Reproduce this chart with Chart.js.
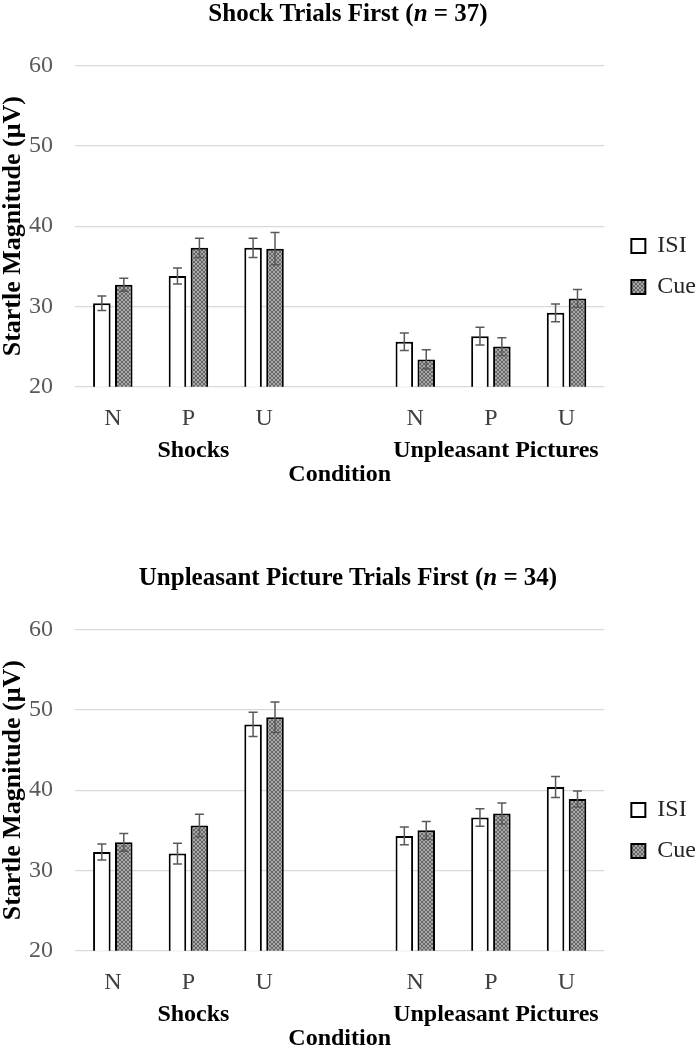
<!DOCTYPE html>
<html>
<head>
<meta charset="utf-8">
<script src="https://cdn.jsdelivr.net/npm/chart.js@4.4.1/dist/chart.umd.min.js"></script>
<style>
  html, body { margin: 0; padding: 0; background: #fff; overflow: hidden; width: 696px; height: 1048px; }
  .panel { position: absolute; left: 0; width: 696px; height: 533px; }
  #panel-top { top: 0; }
  #panel-bottom { top: 564px; }
  .ttl {
    position: absolute; left: 0; top: 0; width: 696px; text-align: center;
    font: bold 25px/25px 'Liberation Serif', 'Times New Roman', serif; color: #000;
  }
  canvas { display: block; }
</style>
</head>
<body>
<div class="panel" id="panel-top">
  <canvas id="chart-top" width="696" height="533"></canvas>
  <div class="ttl">Shock Trials First (<i>n</i> = 37)</div>
</div>
<div class="panel" id="panel-bottom">
  <canvas id="chart-bottom" width="696" height="533"></canvas>
  <div class="ttl">Unpleasant Picture Trials First (<i>n</i> = 34)</div>
</div>
<script>
// ============================================================
//  Startle magnitude by condition, ISI vs Cue, two trial orders
// ============================================================

Chart.defaults.font.family = "'Liberation Serif', 'Times New Roman', serif";
Chart.defaults.font.size = 24;
Chart.defaults.color = '#262626';

const categories  = ['N', 'P', 'U', '', 'N', 'P', 'U'];
const groupLabels = ['', 'Shocks', '', '', '', 'Unpleasant Pictures', ''];
const seriesNames = ['ISI', 'Cue'];
const yTicks      = [20, 30, 40, 50, 60];

// Shock Trials First (n = 37)
const shockFirstISI    = [30.4, 33.8, 37.3, null, 25.6, 26.3, 29.2];
const shockFirstISIErr = [0.9, 1.0, 1.2, null, 1.1, 1.1, 1.1];
const shockFirstCue    = [32.7, 37.3, 37.2, null, 23.4, 25.0, 31.0];
const shockFirstCueErr = [0.8, 1.2, 2.0, null, 1.2, 1.1, 1.1];

// Unpleasant Picture Trials First (n = 34)
const pictureFirstISI    = [32.3, 32.1, 48.2, null, 34.3, 36.6, 40.4];
const pictureFirstISIErr = [1.0, 1.3, 1.5, null, 1.1, 1.1, 1.3];
const pictureFirstCue    = [33.5, 35.6, 49.1, null, 35.0, 37.1, 38.9];
const pictureFirstCueErr = [1.1, 1.4, 1.9, null, 1.1, 1.3, 1.0];

// ── fine crosshatch fill for the Cue bars
function hatchPattern() {
  const c = document.createElement('canvas');
  c.width = 4; c.height = 4;
  const g = c.getContext('2d');
  g.fillStyle = '#a8a8a8';
  g.fillRect(0, 0, 4, 4);
  g.fillStyle = '#666666';
  for (let i = 0; i < 4; i++) {
    g.fillRect(i, i, 1, 1);
    g.fillRect(3 - i, i, 1, 1);
  }
  return g.createPattern(c, 'repeat');
}

// ── error bars, drawn on the bar elements through the y scale
const errorBars = {
  id: 'errorBars',
  afterDatasetsDraw(chart) {
    const { ctx } = chart;
    const y = chart.scales.y;
    ctx.save();
    ctx.strokeStyle = '#595959';
    ctx.lineWidth = 1.5;
    chart.data.datasets.forEach((ds, i) => {
      chart.getDatasetMeta(i).data.forEach((bar, j) => {
        const v = ds.data[j], e = ds.errors[j];
        if (v == null || e == null) return;
        const top = y.getPixelForValue(v + e);
        const bot = y.getPixelForValue(v - e);
        ctx.beginPath();
        ctx.moveTo(bar.x, top);       ctx.lineTo(bar.x, bot);
        ctx.moveTo(bar.x - 4.5, top); ctx.lineTo(bar.x + 4.5, top);
        ctx.moveTo(bar.x - 4.5, bot); ctx.lineTo(bar.x + 4.5, bot);
        ctx.stroke();
      });
    });
    ctx.restore();
  }
};

// ── legend sits a little further right than Chart.js puts it
const legendNudge = {
  id: 'legendNudge',
  afterLayout(chart) {
    chart.legend.left += 10;
    chart.legend.right += 10;
  }
};

function makeChart(id, isi, isiErr, cue, cueErr) {
  const yStep = yTicks[1] - yTicks[0];
  const barStyle = { borderColor: '#000000', borderWidth: 2, borderSkipped: false, categoryPercentage: 0.58, barPercentage: 0.8 };

  return new Chart(document.getElementById(id), {
    type: 'bar',
    data: {
      labels: categories,
      datasets: [
        { label: seriesNames[0], data: isi, errors: isiErr, backgroundColor: '#ffffff', ...barStyle },
        { label: seriesNames[1], data: cue, errors: cueErr, backgroundColor: hatchPattern(), ...barStyle },
      ]
    },
    options: {
      responsive: false,
      animation: false,
      layout: { padding: 0 },
      plugins: {
        // empty title block only reserves the space of the html heading above
        title: { display: true, text: '', font: { size: 25, lineHeight: 1.1 }, padding: { top: 0, bottom: 38.2 } },
        legend: {
          position: 'right',
          align: 'center',
          labels: { boxWidth: 14, boxHeight: 14, padding: 17, color: '#262626', font: { size: 24 } }
        },
        tooltip: { enabled: false },
      },
      scales: {
        x: {
          type: 'category', position: 'bottom', weight: 0,
          grid: { display: false }, border: { display: false },
          ticks: { padding: 10, color: '#404040', font: { size: 24 }, autoSkip: false, maxRotation: 0 },
          afterFit: s => { s.height = 41; }
        },
        x2: {
          type: 'category', position: 'bottom', weight: 1, labels: groupLabels, offset: true,
          grid: { display: false }, border: { display: false },
          ticks: { padding: 1, color: '#000000', font: { size: 24, weight: 'bold' }, autoSkip: false, maxRotation: 0, labelOffset: 5 },
          title: { display: true, text: 'Condition', color: '#000000', font: { size: 24, weight: 'bold' }, padding: { top: 0, bottom: 43.6 } },
          afterFit: s => { s.height = 105.3; }
        },
        y: {
          min: yTicks[0], max: yTicks[yTicks.length - 1],
          ticks: { stepSize: yStep, padding: 22, color: '#595959', font: { size: 24 } },
          grid: { color: '#d9d9d9', lineWidth: 1.3, drawTicks: false },
          border: { display: false },
          title: { display: true, text: 'Startle Magnitude (μV)', color: '#000000', font: { size: 26, weight: 'bold', lineHeight: 1 }, padding: 0 },
          afterFit: s => { s.width = 75; }
        }
      }
    },
    plugins: [errorBars, legendNudge]
  });
}

// ── Init
makeChart('chart-top', shockFirstISI, shockFirstISIErr, shockFirstCue, shockFirstCueErr);
makeChart('chart-bottom', pictureFirstISI, pictureFirstISIErr, pictureFirstCue, pictureFirstCueErr);
</script>
</body>
</html>
